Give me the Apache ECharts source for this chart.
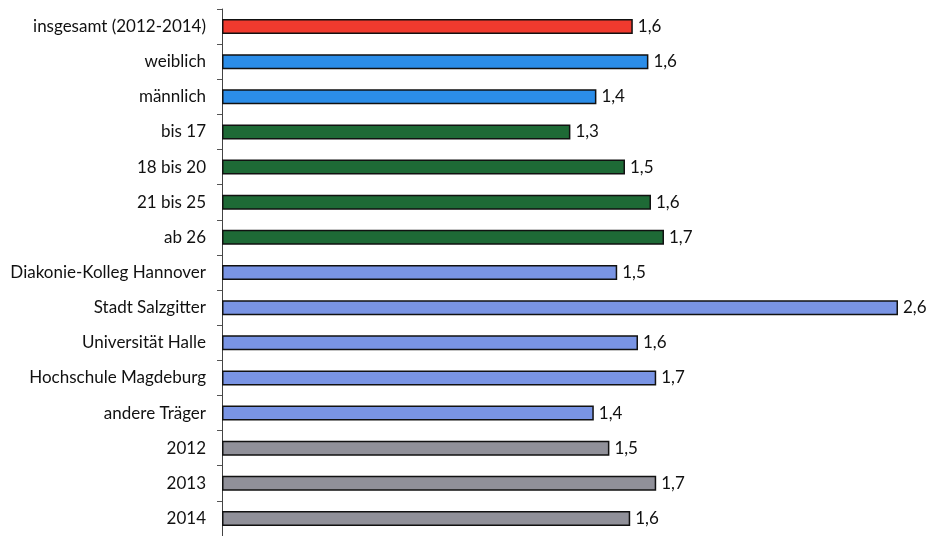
<!DOCTYPE html>
<html>
<head>
<meta charset="utf-8">
<script src="https://cdn.jsdelivr.net/npm/echarts@6/dist/echarts.min.js"></script>
<style>
  html, body { margin: 0; padding: 0; background: #fff; }
  #main { width: 929px; height: 536px; }
</style>
</head>
<body>
<div id="main"></div>
<script>
// Kategorien von oben nach unten
var categories = ['insgesamt (2012-2014)', 'weiblich', 'männlich', 'bis 17', '18 bis 20', '21 bis 25', 'ab 26',
  'Diakonie-Kolleg Hannover', 'Stadt Salzgitter', 'Universität Halle', 'Hochschule Magdeburg', 'andere Träger',
  '2012', '2013', '2014'];
// Balkenlängen (aus dem Bild geschätzt)
var values = [1.58, 1.64, 1.44, 1.34, 1.55, 1.65, 1.70, 1.52, 2.60, 1.60, 1.67, 1.43, 1.49, 1.67, 1.57];
// gedruckte Werte
var valueLabels = ['1,6', '1,6', '1,4', '1,3', '1,5', '1,6', '1,7', '1,5', '2,6', '1,6', '1,7', '1,4', '1,5', '1,7', '1,6'];
// Farbgruppe je Balken
var groups = ['gesamt', 'geschlecht', 'geschlecht', 'alter', 'alter', 'alter', 'alter',
  'traeger', 'traeger', 'traeger', 'traeger', 'traeger', 'jahr', 'jahr', 'jahr'];
var groupColors = {
  gesamt: '#f03a2e',
  geschlecht: '#2b8de8',
  alter: '#1e6a36',
  traeger: '#7994e4',
  jahr: '#909099'
};

var myChart = echarts.init(document.getElementById('main'));

var option = {
  backgroundColor: '#fff',
  animation: false,
  grid: { left: 222, top: 9, width: 702, height: 530 },
  xAxis: {
    type: 'value',
    min: 0,
    max: 2.7,
    show: false
  },
  yAxis: {
    type: 'category',
    inverse: true,
    data: categories,
    axisLine: { show: true, lineStyle: { color: '#444', width: 1 } },
    axisTick: { show: true, length: 5, lineStyle: { color: '#555' } },
    axisLabel: {
      margin: 16,
      color: '#111',
      fontFamily: 'Lato',
      fontSize: 17
    }
  },
  series: [
    {
      type: 'bar',
      barWidth: 15,
      data: values.map(function (v, i) {
        return {
          value: v,
          itemStyle: { color: groupColors[groups[i]] }
        };
      }),
      itemStyle: { borderColor: '#111', borderWidth: 1.5 },
      label: {
        show: true,
        position: 'right',
        distance: 5,
        color: '#111',
        fontFamily: 'Lato',
        fontSize: 17,
        formatter: function (p) { return valueLabels[p.dataIndex]; }
      }
    }
  ]
};

myChart.setOption(option);
</script>
</body>
</html>
